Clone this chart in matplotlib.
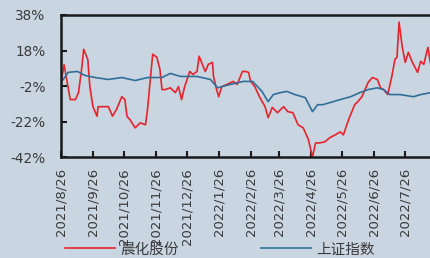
import numpy as np
import pandas as pd
import matplotlib
matplotlib.use('Agg')
import matplotlib.pyplot as plt

plt.rcParams['font.family'] = ['Noto Sans CJK SC', 'DejaVu Sans']

# 晨化股份 cumulative return (%)
red_dates = ['2021-08-26', '2021-08-29', '2021-09-04', '2021-09-09', '2021-09-12', '2021-09-15',
             '2021-09-17', '2021-09-21', '2021-09-23', '2021-09-26', '2021-09-30', '2021-10-01',
             '2021-10-11', '2021-10-15', '2021-10-19', '2021-10-24', '2021-10-27', '2021-10-29',
             '2021-11-01', '2021-11-06', '2021-11-11', '2021-11-16', '2021-11-18', '2021-11-20',
             '2021-11-23', '2021-11-27', '2021-11-30', '2021-12-02', '2021-12-05', '2021-12-10',
             '2021-12-15', '2021-12-18', '2021-12-21', '2021-12-24', '2021-12-29', '2022-01-01',
             '2022-01-05', '2022-01-07', '2022-01-11', '2022-01-13', '2022-01-16', '2022-01-20',
             '2022-01-21', '2022-01-24', '2022-01-26', '2022-01-29', '2022-02-03', '2022-02-09',
             '2022-02-13', '2022-02-18', '2022-02-21', '2022-02-24', '2022-02-26', '2022-03-02',
             '2022-03-07', '2022-03-12', '2022-03-15', '2022-03-19', '2022-03-24', '2022-03-30',
             '2022-04-03', '2022-04-08', '2022-04-13', '2022-04-18', '2022-04-23', '2022-04-27',
             '2022-04-30', '2022-05-04', '2022-05-09', '2022-05-14', '2022-05-19', '2022-05-24',
             '2022-05-27', '2022-06-01', '2022-06-05', '2022-06-07', '2022-06-10', '2022-06-14',
             '2022-06-17', '2022-06-20', '2022-06-24', '2022-06-29', '2022-07-02', '2022-07-05',
             '2022-07-09', '2022-07-13', '2022-07-16', '2022-07-18', '2022-07-20', '2022-07-23',
             '2022-07-26', '2022-07-29', '2022-08-02', '2022-08-07', '2022-08-10', '2022-08-13',
             '2022-08-17', '2022-08-20']
red_vals = [0, 10, -9.6, -9.6, -5.7, 7.4,
            18.7, 13, -2.3, -13.6, -19, -13.6,
            -13.6, -19, -15, -8, -9.6, -19,
            -21, -25.5, -22.7, -23.8, -15, -2.3,
            15.9, 14.2, 7.4, -4, -4, -3,
            -5.7, -2.3, -9.6, -2.3, 6.2, 4.5,
            6.2, 14.8, 9, 6.2, 10.2, 11.3,
            3.4, -4, -8, -2.3, -1.1, 0.6,
            -1.1, 6.2, 6.2, 5.7, 0.6, -2.3,
            -8.5, -13.6, -19.8, -14, -17, -13.6,
            -16.4, -17, -23.8, -25.5, -32, -42,
            -34, -34, -33.4, -31, -29.5, -27.8,
            -29.5, -21, -15.3, -12.5, -10.8, -8,
            -4, 0, 2.8, 1.7, -3, -4,
            -6.8, 3.4, 13, 14.2, 34, 20.4,
            11.3, 17, 11.3, 5.7, 11.9, 10.2,
            19.8, 9]

# 上证指数 cumulative return (%)
blue_dates = ['2021-08-26', '2021-09-02', '2021-09-11', '2021-09-18', '2021-09-28', '2021-10-11',
              '2021-10-24', '2021-11-06', '2021-11-18', '2021-12-02', '2021-12-10', '2021-12-20',
              '2022-01-05', '2022-01-18', '2022-01-25', '2022-02-06', '2022-02-19', '2022-02-28',
              '2022-03-09', '2022-03-15', '2022-03-20', '2022-03-27', '2022-04-02', '2022-04-10',
              '2022-04-20', '2022-04-27', '2022-05-02', '2022-05-07', '2022-05-17', '2022-05-24',
              '2022-06-03', '2022-06-12', '2022-06-20', '2022-06-29', '2022-07-05', '2022-07-11',
              '2022-07-21', '2022-08-03', '2022-08-10', '2022-08-20']
blue_vals = [0, 5.7, 6.2, 4, 2.8, 1.7,
             2.8, 1.1, 2.8, 2.8, 5.1, 3.4,
             3.4, 1.7, -3, -1.1, 0.6, 0.6,
             -5, -10.8, -6.8, -5.7, -5, -6.8,
             -8.5, -16.4, -12.5, -12.5, -10.8, -9.6,
             -8, -5.7, -4, -3, -4, -6.8,
             -6.8, -8, -6.8, -5.7]

tick_dates = ['2021-08-26', '2021-09-26', '2021-10-26', '2021-11-26', '2021-12-26', '2022-01-26',
              '2022-02-26', '2022-03-26', '2022-04-26', '2022-05-26', '2022-06-26', '2022-07-26']
tick_labels = ['2021/8/26', '2021/9/26', '2021/10/26', '2021/11/26', '2021/12/26', '2022/1/26',
               '2022/2/26', '2022/3/26', '2022/4/26', '2022/5/26', '2022/6/26', '2022/7/26']
y_ticks = [38, 18, -2, -22, -42]

bg = '#c9d5e1'
txt = '#3a3a3a'

fig = plt.figure(figsize=(4.31, 2.58), dpi=100, facecolor=bg)
ax = fig.add_axes([0.1415, 0.391, 0.8585, 0.551], facecolor=bg)

ax.plot(pd.to_datetime(red_dates), red_vals, color='#e8232b', lw=1.2, label='晨化股份')
ax.plot(pd.to_datetime(blue_dates), blue_vals, color='#2f6f98', lw=1.2, label='上证指数')

ax.set_xlim(pd.Timestamp('2021-08-26'), pd.Timestamp('2022-08-20'))
ax.set_ylim(-42, 38)
ax.set_yticks(y_ticks)
ax.set_yticklabels([f'{v}%' for v in y_ticks], family='DejaVu Sans', fontsize=9.8, color=txt)
ax.set_xticks(pd.to_datetime(tick_dates))
ax.set_xticklabels(tick_labels, rotation=90, family='DejaVu Sans', fontsize=9.5, color=txt)

for s in ['left', 'top', 'bottom']:
    ax.spines[s].set_linewidth(1.8)
    ax.spines[s].set_color('#1a1a1a')
ax.spines['right'].set_visible(False)
ax.tick_params(axis='both', direction='in', length=4, width=1.5, color='#1a1a1a')
ax.tick_params(axis='y', pad=11)
ax.tick_params(axis='x', pad=8)

fig.legend(loc='center left', bbox_to_anchor=(0.135, 0.033), ncol=2, frameon=False,
           handlelength=3.4, handletextpad=0.4, columnspacing=5.6, fontsize=10.5,
           labelcolor=txt, borderpad=0)

fig.savefig('out.png', dpi=100, facecolor=bg)
